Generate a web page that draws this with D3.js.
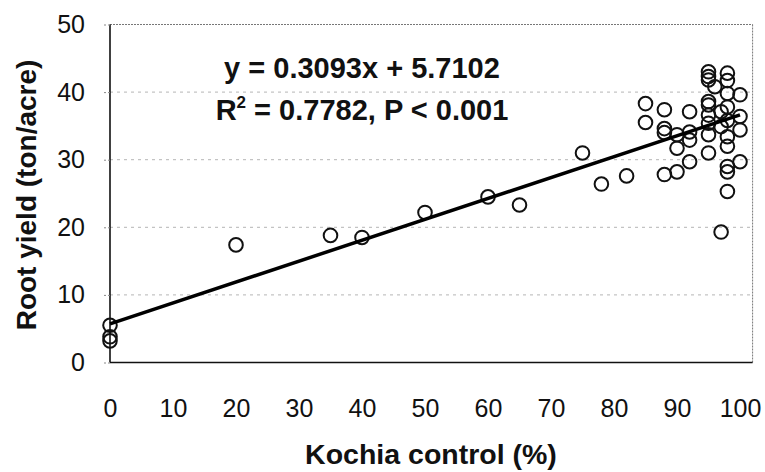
<!DOCTYPE html>
<html><head><meta charset="utf-8">
<script src="https://cdn.jsdelivr.net/npm/d3@7"></script>
<style>body{margin:0;background:#fff}svg{display:block}text{font-family:"Liberation Sans",Arial,sans-serif}</style>
</head><body>
<svg id="c" width="765" height="472"></svg>
<script>
const xTicks = [0,10,20,30,40,50,60,70,80,90,100];
const yTicks = [0,10,20,30,40,50];
const control = [0,0,0,20,35,40,50,60,65,75,78,82,85,85,88,88,88,88,90,90,90,92,92,92,92,
  95,95,95,95,95,95,95,95,95,96,97,97,97,98,98,98,98,98,98,98,98,98,98,100,100,100,100];
const rootYield = [5.5,3.8,3.2,17.4,18.8,18.5,22.2,24.5,23.3,31.0,26.4,27.6,38.3,35.5,37.4,34.6,34.0,27.8,33.7,31.7,28.2,37.1,34.1,32.9,29.7,
  43.0,42.3,41.8,38.6,38.1,36.6,35.4,33.7,31.0,40.8,37.1,34.9,19.3,42.8,41.7,39.8,37.8,35.8,33.4,32.0,29.0,28.2,25.3,39.6,36.4,34.4,29.7];
const slope = 0.3093, intercept = 5.7102;
const eqLine1 = "y = 0.3093x + 5.7102";
const eqLine2 = " = 0.7782, P < 0.001";

const svg = d3.select("#c");
const x = d3.scaleLinear().domain([0,102]).range([110,752.6]);
const y = d3.scaleLinear().domain([0,50]).range([362.5,24.5]);

// gridlines
svg.append("g").selectAll("line").data(yTicks.filter(d=>d>0 && d<50)).join("line")
  .attr("x1",x(0)).attr("x2",x(102)).attr("y1",d=>y(d)).attr("y2",d=>y(d))
  .attr("stroke","#b5b5b5").attr("stroke-width",1).attr("stroke-dasharray","3,4");
// border top/right dotted
svg.append("line").attr("x1",x(0)).attr("x2",x(102)).attr("y1",y(50)).attr("y2",y(50))
  .attr("stroke","#777").attr("stroke-width",1).attr("stroke-dasharray","2,1");
svg.append("line").attr("x1",x(102)).attr("x2",x(102)).attr("y1",y(50)).attr("y2",y(0))
  .attr("stroke","#777").attr("stroke-width",1).attr("stroke-dasharray","2,1");

// axes
const yAxis = svg.append("g").attr("transform",`translate(${x(0)},0)`)
  .call(d3.axisLeft(y).tickValues(yTicks).tickSize(7).tickPadding(18).tickFormat(d3.format("d")));
const xAxis = svg.append("g").attr("transform",`translate(0,${y(0)})`)
  .call(d3.axisBottom(x).tickValues(xTicks).tickSize(0).tickFormat(d3.format("d")));
[yAxis,xAxis].forEach(g=>{
  g.select(".domain").attr("stroke","#111").attr("stroke-width",1.6);
  g.selectAll(".tick line").attr("stroke","#888").attr("stroke-dasharray","2,2");
  g.selectAll("text").attr("font-size",25).attr("fill","#111").attr("font-family","'Liberation Sans',Arial,sans-serif");
});
xAxis.selectAll(".tick text").attr("y",54.5).attr("dy","0");
yAxis.select(".domain").attr("d",`M0,${y(50)}V${y(0)}`);
xAxis.select(".domain").attr("d",`M${x(0)},0H${x(102)}`);

// points
svg.append("g").selectAll("circle").data(control.map((c,i)=>[c,rootYield[i]])).join("circle")
  .attr("cx",d=>x(d[0])).attr("cy",d=>y(d[1])).attr("r",6.8)
  .attr("fill","none").attr("stroke","#111").attr("stroke-width",2);

// trendline
svg.append("line").attr("x1",x(0)).attr("y1",y(intercept)).attr("x2",x(100)).attr("y2",y(slope*100+intercept))
  .attr("stroke","#000").attr("stroke-width",3.5);

// equation text
svg.append("text").attr("x",362).attr("y",78).attr("text-anchor","middle")
  .attr("font-size",29).attr("font-weight","bold").attr("fill","#111").text(eqLine1);
const t2 = svg.append("text").attr("x",362).attr("y",120).attr("text-anchor","middle")
  .attr("font-size",29).attr("font-weight","bold").attr("fill","#111");
t2.append("tspan").text("R");
t2.append("tspan").attr("font-size",17).attr("dy",-12).text("2");
t2.append("tspan").attr("dy",12).text(eqLine2);

// axis titles
svg.append("text").attr("x",431).attr("y",464).attr("text-anchor","middle")
  .attr("font-size",28.5).attr("font-weight","bold").attr("fill","#111").text("Kochia control (%)");
svg.append("text").attr("transform","translate(36,195) rotate(-90)").attr("text-anchor","middle")
  .attr("font-size",28).attr("font-weight","bold").attr("fill","#111").text("Root yield (ton/acre)");
</script>
</body></html>
